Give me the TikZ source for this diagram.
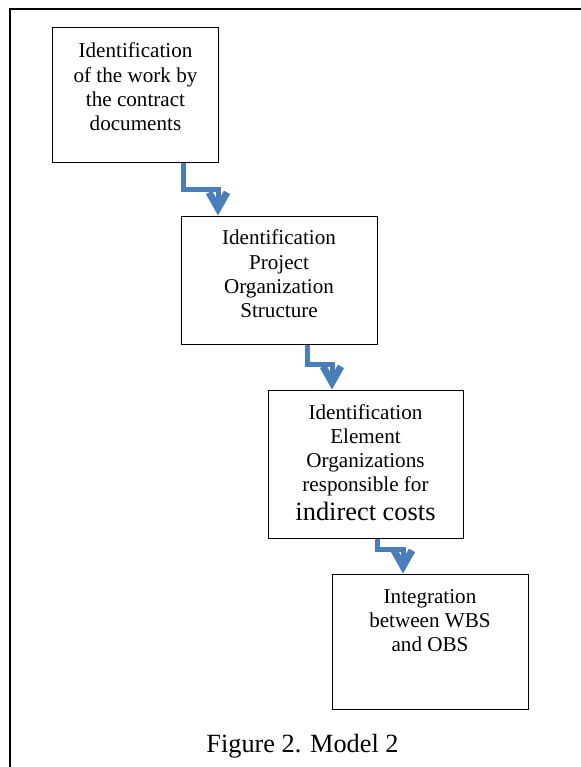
\documentclass[tikz,border=0pt]{standalone}
\usepackage{fontspec}
\setmainfont{Liberation Serif}
\usetikzlibrary{arrows.meta}
\definecolor{flowblue}{RGB}{74,126,187}
\begin{document}
\begin{tikzpicture}[x=1bp,y=-1bp,
  stepbox/.style={draw=black,line width=1bp,inner sep=0pt,minimum width=#1},
  boxtext/.style={anchor=base,align=center,inner sep=0pt,
    font=\fontsize{21.2}{24.3}\selectfont},
  flow/.style={draw=flowblue,line width=5bp,
    -{Straight Barb[length=16bp,width=18bp,line width=7bp]}},
  caption/.style={anchor=base,inner sep=0pt,font=\fontsize{26.4}{30}\selectfont}]
  \useasboundingbox (0,0) rectangle (581,767);
  % outer frame (top and left edges)
  \draw[line width=2bp] (10,767) -- (10,9) -- (581,9);

  % process boxes
  \node[stepbox=165bp,minimum height=134bp] (b1) at (135.5,95) {};
  \node[stepbox=196bp,minimum height=128bp] (b2) at (279,280) {};
  \node[stepbox=195bp,minimum height=148bp] (b3) at (365.5,464) {};
  \node[stepbox=196bp,minimum height=135bp] (b4) at (430,641.5) {};

  % box texts (anchored on the baseline of their last line)
  \node[boxtext] (t1) at ([yshift=-103bp]b1.north)
    {Identification\\of the work by\\the contract\\documents};
  \node[boxtext] (t2) at ([yshift=-102bp]b2.north)
    {Identification\\Project\\Organization\\Structure};
  \node[boxtext] (t3) at ([yshift=-131bp]b3.north)
    {Identification\\Element\\Organizations\\responsible for\\[4.5pt]{\fontsize{26.5}{29}\selectfont indirect costs}};
  \node[boxtext] (t4) at ([yshift=-78bp]b4.north)
    {Integration\\between WBS\\and OBS};

  % elbow connectors
  \draw[flow] ([xshift=47.5bp]b1.south) |- ([xshift=-61bp,yshift=26bp]b2.north)
    -- ([xshift=-61bp]b2.north);
  \draw[flow] ([xshift=28bp]b2.south) |- ([xshift=-33.5bp,yshift=25bp]b3.north)
    -- ([xshift=-33.5bp]b3.north);
  \draw[flow] ([xshift=11.5bp]b3.south) |- ([xshift=-27bp,yshift=24bp]b4.north)
    -- ([xshift=-27bp]b4.north);

  % caption
  \node[caption] (cap) at (302.5,752) {Figure 2. Model 2};
\end{tikzpicture}
\end{document}
